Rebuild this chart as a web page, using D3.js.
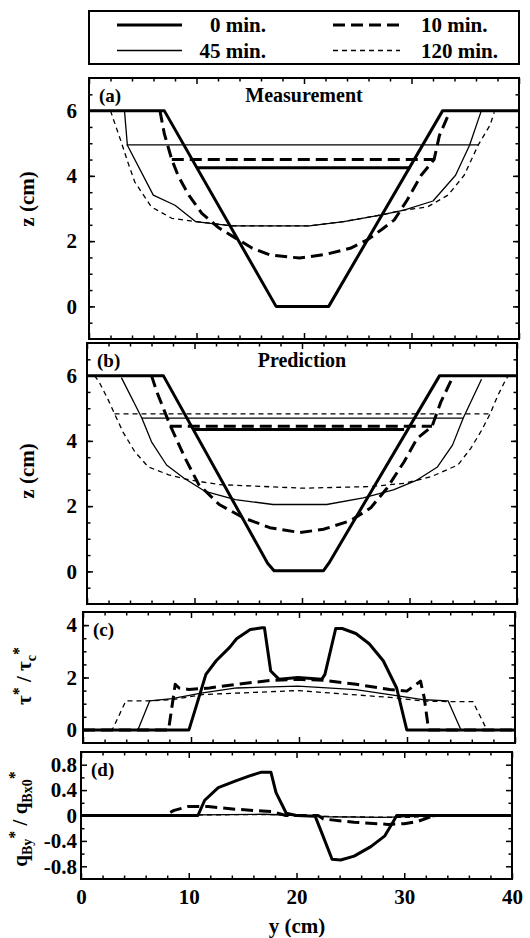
<!DOCTYPE html>
<html>
<head>
<meta charset="utf-8">
<script src="https://cdn.jsdelivr.net/npm/d3@7"></script>
<style>
body { margin: 0; background: #fff; }
svg text { font-family: "Liberation Serif", "Times New Roman", serif; font-weight: bold; fill: #000; }
</style>
</head>
<body>
<svg id="chart" width="530" height="938"></svg>
<script>
// series labels (minutes after start)
const minutes = [0, 10, 45, 120];
const legendLabels = ["0 min.", "10 min.", "45 min.", "120 min."];

// (a) measured bed profiles, [y (cm), z (cm)]
const meas0 = [[0,6],[7,6],[17.4,0],[22.3,0],[32.9,6],[40,6]];
const meas10 = [[6.6,6],[7.0,5.3],[7.7,4.5],[8.3,4.0],[9.3,3.4],[10.5,2.85],[12.1,2.4],[13.6,2.1],[15.2,1.78],
  [16.8,1.58],[19.6,1.48],[22.1,1.6],[24.3,1.78],[25.9,2.04],[27.2,2.35],[28.4,2.65],[29.6,3.26],[30.9,4.02],
  [32.1,4.5],[32.6,5.24],[33.4,5.85],[33.5,6]];
const meas45 = [[3.3,6],[3.57,4.94],[5.98,3.41],[8.0,3.1],[9.9,2.6],[13.3,2.47],[20.5,2.47],[23.7,2.6],
  [27.1,2.8],[29.3,2.95],[32.0,3.23],[34.1,4.02],[35.4,4.94],[36.5,6]];
const meas120 = [[2.0,6],[2.2,5.8],[3.0,5.04],[3.6,4.43],[4.25,3.82],[5.8,3.05],[7.7,2.7],[9.9,2.6],[13.3,2.47],
  [20.5,2.47],[23.7,2.6],[27.1,2.8],[29.3,2.95],[31.5,3.05],[33.4,3.41],[34.9,4.02],[36.2,4.94],[37.3,5.55],[37.7,5.95]];
// water surface: minute, level z, from y, to y
const measWater = [[0,4.25,10.0,29.9],[10,4.5,7.7,32.1],[45,4.95,3.5,36.2]];

// (b) predicted bed profiles
const pred0 = [[0,6],[7.1,6],[16.8,0.25],[17.4,0.02],[22.0,0.02],[22.5,0.25],[32.8,6],[40,6]];
const pred10 = [[6.0,6],[6.5,5.5],[7.73,4.48],[9.14,3.46],[10.4,2.66],[12.3,2.05],[14.5,1.65],[17.0,1.34],
  [19.8,1.19],[22.0,1.29],[24.5,1.55],[26.4,1.95],[27.9,2.55],[29.5,3.36],[30.7,4.07],[32.1,4.45],[32.9,5.18],[34.0,5.94]];
const pred45 = [[3.2,5.94],[5.1,4.7],[6.0,3.97],[7.4,3.26],[9.0,2.86],[11.0,2.45],[13.8,2.2],[17.3,2.05],
  [22.3,2.05],[25.7,2.25],[28.5,2.5],[30.7,2.8],[32.6,3.2],[34.0,3.87],[35.0,4.7],[36.7,5.89]];
const pred120 = [[0.7,6],[1.15,5.79],[1.94,5.28],[2.56,4.83],[3.35,4.27],[4.44,3.67],[5.7,3.2],[7.6,2.96],
  [9.45,2.81],[12.3,2.66],[20.1,2.55],[26.4,2.6],[29.5,2.7],[32.0,2.9],[34.5,3.26],[35.7,3.77],[36.7,4.32],
  [37.5,4.83],[38.2,5.38],[38.9,5.84],[39.2,6]];
const predWater = [[0,4.35,9.9,29.5],[10,4.45,7.7,32.1],[45,4.7,5.1,35.0],[120,4.83,2.56,37.5]];

// (c) bed shear stress ratio
const tau0 = [[0,0],[9.81,0],[10.43,0.83],[11.38,2.12],[12.33,2.64],[13.6,3.16],[14.22,3.48],[15.49,3.83],
  [16.58,3.9],[16.8,3.9],[17.38,2.25],[18.16,1.93],[19.9,2.0],[22.1,1.93],[22.4,2.12],[23.4,3.87],[24.0,3.87],
  [25.26,3.68],[26.5,3.29],[27.8,2.64],[29.04,1.6],[29.98,0],[40,0]];
const tau10 = [[0,0],[7.92,0],[8.54,1.74],[8.9,1.6],[9.81,1.54],[11.7,1.6],[14.2,1.74],[17.4,1.89],[19.9,1.93],
  [22.4,1.89],[25.3,1.74],[28.4,1.54],[29.98,1.48],[31.25,1.86],[31.6,1.22],[32.0,0],[40,0]];
const tau45 = [[0,0],[5.08,0],[6.18,1.11],[8.23,1.19],[11.07,1.41],[14.22,1.6],[19.9,1.67],[25.26,1.54],
  [28.4,1.35],[31.6,1.15],[33.8,1.11],[35.0,0],[40,0]];
const tau120 = [[0,0],[2.71,0],[3.97,1.11],[6.03,1.11],[8.2,1.15],[11.07,1.35],[19.9,1.5],[28.4,1.24],
  [31.6,1.1],[33.8,1.08],[36.1,1.08],[37.4,0],[40,0]];

// (d) lateral bedload ratio
const qb0 = [[0,0],[10.85,0],[11.48,0.24],[12.74,0.44],[14.3,0.54],[15.58,0.62],[16.68,0.68],[17.63,0.68],
  [18.1,0.36],[19.05,0.035],[20,0],[21.73,-0.01],[22.5,-0.34],[23.3,-0.69],[24.1,-0.7],[25.35,-0.64],
  [26.9,-0.49],[28.2,-0.32],[29.0,-0.09],[29.3,0],[40,0]];
const qb10 = [[0,0],[7.7,0],[8.64,0.08],[9.9,0.14],[11.8,0.14],[14.3,0.1],[16.84,0.07],[17.8,0.06],[19,0],
  [22,0],[22.5,-0.055],[25.35,-0.106],[28.5,-0.14],[30.0,-0.13],[31.3,-0.09],[32.3,-0.03],[33,0],[40,0]];
const qb45 = [[0,0],[8,0],[11,0.01],[17,0.02],[20,0],[23,-0.02],[28,-0.03],[32,-0.01],[36,0],[40,0]];
const qb120 = [[0,0],[5,0],[10,0.01],[18,0.015],[20,0],[24,-0.02],[30,-0.03],[34,-0.01],[38,0],[40,0]];

const xMajor = [0, 10, 20, 30, 40];

// line style for each time step
const styles = {
  0: {w: 3, dash: null},
  10: {w: 3, dash: "12,6"},
  45: {w: 1.3, dash: null},
  120: {w: 1.3, dash: "5,4"}
};

const svg = d3.select("#chart");

const panels = [
  {tag: "(a)", title: "Measurement", left: 89, right: 519, top: 78, bottom: 339, yDomain: [-1, 7],
   yMajor: [0, 2, 4, 6], yMinor: d3.range(-0.5, 7, 0.5), series: [meas120, meas45, meas10, meas0],
   water: measWater, label: "z", labelY: 199},
  {tag: "(b)", title: "Prediction", left: 87, right: 517, top: 343, bottom: 604, yDomain: [-1, 7],
   yMajor: [0, 2, 4, 6], yMinor: d3.range(-0.5, 7, 0.5), series: [pred120, pred45, pred10, pred0],
   water: predWater, label: "z", labelY: 471},
  {tag: "(c)", left: 83, right: 515, top: 612, bottom: 743, yDomain: [-0.5, 4.5],
   yMajor: [0, 2, 4], yMinor: d3.range(0, 4.5, 0.5), series: [tau120, tau45, tau10, tau0],
   water: [], label: "tau", labelY: 676},
  {tag: "(d)", left: 81, right: 512, top: 752, bottom: 879, yDomain: [-1, 1],
   yMajor: [-0.8, -0.4, 0, 0.4, 0.8], yMinor: [-0.6, -0.2, 0.2, 0.6], series: [qb120, qb45, qb10, qb0],
   water: [], label: "q", labelY: 819, xLabels: true}
];

const seriesMinutes = [120, 45, 10, 0];

function styleTicks(g) {
  g.select(".domain").remove();
  g.selectAll("line").attr("stroke", "#000").attr("stroke-width", 1.5);
  g.selectAll("text").attr("font-size", 21).attr("font-family", null).style("fill", "#000");
  g.attr("font-family", null);
}

panels.forEach(function(p) {
  let x = d3.scaleLinear().domain([0, 40]).range([p.left, p.right]);
  let y = d3.scaleLinear().domain(p.yDomain).range([p.bottom, p.top]);

  let g = svg.append("g").attr("class", "panel");

  // ticks, all pointing inward
  let lblPad = p.left - 77;
  g.append("g").attr("transform", `translate(${p.left},0)`)
    .call(d3.axisLeft(y).tickValues(p.yMajor).tickSize(-6).tickPadding(lblPad).tickFormat(d => String(d)))
    .call(styleTicks);
  g.append("g").attr("transform", `translate(${p.left},0)`)
    .call(d3.axisLeft(y).tickValues(p.yMinor).tickSize(-3.5).tickFormat(""))
    .call(styleTicks);
  g.append("g").attr("transform", `translate(${p.right},0)`)
    .call(d3.axisRight(y).tickValues(p.yMajor).tickSize(-6).tickFormat(""))
    .call(styleTicks);
  g.append("g").attr("transform", `translate(${p.right},0)`)
    .call(d3.axisRight(y).tickValues(p.yMinor).tickSize(-3.5).tickFormat(""))
    .call(styleTicks);

  let xMinor = d3.range(2, 40, 2).filter(v => v % 10 !== 0);
  g.append("g").attr("transform", `translate(0,${p.top})`)
    .call(d3.axisTop(x).tickValues(xMajor).tickSize(-6).tickFormat(""))
    .call(styleTicks);
  g.append("g").attr("transform", `translate(0,${p.top})`)
    .call(d3.axisTop(x).tickValues(xMinor).tickSize(-3.5).tickFormat(""))
    .call(styleTicks);
  g.append("g").attr("transform", `translate(0,${p.bottom})`)
    .call(d3.axisBottom(x).tickValues(xMajor).tickSize(-6).tickPadding(10)
      .tickFormat(p.xLabels ? (d => String(d)) : ""))
    .call(styleTicks);
  g.append("g").attr("transform", `translate(0,${p.bottom})`)
    .call(d3.axisBottom(x).tickValues(xMinor).tickSize(-3.5).tickFormat(""))
    .call(styleTicks);

  // frame
  g.append("rect")
    .attr("x", p.left).attr("y", p.top)
    .attr("width", p.right - p.left).attr("height", p.bottom - p.top)
    .attr("fill", "none").attr("stroke", "#000").attr("stroke-width", 2);

  let line = d3.line().x(d => x(d[0])).y(d => y(d[1]));

  // water surface lines
  p.water.forEach(function(w) {
    let s = styles[w[0]];
    g.append("path")
      .attr("d", line([[w[2], w[1]], [w[3], w[1]]]))
      .attr("fill", "none").attr("stroke", "#000")
      .attr("stroke-width", s.w)
      .attr("stroke-dasharray", s.dash);
  });

  // profiles
  p.series.forEach(function(data, i) {
    let s = styles[seriesMinutes[i]];
    g.append("path")
      .attr("d", line(data))
      .attr("fill", "none").attr("stroke", "#000")
      .attr("stroke-width", s.w)
      .attr("stroke-linejoin", "round")
      .attr("stroke-dasharray", s.dash);
  });

  g.append("text").attr("x", p.left + 10).attr("y", p.top + 24)
    .attr("font-size", 19).text(p.tag);

  if (p.title) {
    g.append("text").attr("x", x(20)).attr("y", p.top + 24)
      .attr("text-anchor", "middle").attr("font-size", 20).text(p.title);
  }

  // rotated axis titles
  if (p.label === "z") {
    g.append("text").attr("transform", `translate(34,${p.labelY}) rotate(-90)`)
      .attr("text-anchor", "middle").attr("font-size", 21).text("z (cm)");
  } else if (p.label === "tau") {
    let t = g.append("text").attr("transform", `translate(31,${p.labelY}) rotate(-90)`)
      .attr("text-anchor", "middle").attr("font-size", 21);
    t.append("tspan").text("τ");
    t.append("tspan").attr("dy", -7).attr("font-size", 16).text("*");
    t.append("tspan").attr("dy", 7).text(" / τ");
    t.append("tspan").attr("dy", 5).attr("font-size", 14).text("c");
    t.append("tspan").attr("dy", -12).attr("font-size", 16).text("*");
  } else {
    let t = g.append("text").attr("transform", `translate(27,${p.labelY}) rotate(-90)`)
      .attr("text-anchor", "middle").attr("font-size", 21);
    t.append("tspan").text("q");
    t.append("tspan").attr("dy", 5).attr("font-size", 14).text("By");
    t.append("tspan").attr("dy", -12).attr("font-size", 16).text("*");
    t.append("tspan").attr("dy", 7).text(" / q");
    t.append("tspan").attr("dy", 5).attr("font-size", 14).text("Bx0");
    t.append("tspan").attr("dy", -12).attr("font-size", 16).text("*");
  }
});

// x axis title
svg.append("text").attr("x", 297).attr("y", 933)
  .attr("text-anchor", "middle").attr("font-size", 21).text("y (cm)");

// legend box
let legend = svg.append("g").attr("class", "legend");
legend.append("rect").attr("x", 89).attr("y", 11).attr("width", 430).attr("height", 53)
  .attr("fill", "none").attr("stroke", "#000").attr("stroke-width", 2);

// order in legend: 0 | 10 on first row, 45 | 120 on second
let legendPos = [
  {col: 0, row: 0}, {col: 1, row: 0}, {col: 0, row: 1}, {col: 1, row: 1}
];
minutes.forEach(function(m, i) {
  let s = styles[m],
  pos = legendPos[i],
  ly = pos.row === 0 ? 25 : 50.5,
  x0 = pos.col === 0 ? 117 : 333,
  x1 = pos.col === 0 ? 182 : 400;

  legend.append("line")
    .attr("x1", x0).attr("x2", x1).attr("y1", ly).attr("y2", ly)
    .attr("stroke", "#000").attr("stroke-width", s.w)
    .attr("stroke-dasharray", s.dash);

  legend.append("text")
    .attr("x", pos.col === 0 ? 266 : 421)
    .attr("y", ly + 7)
    .attr("text-anchor", pos.col === 0 ? "end" : "start")
    .attr("font-size", 21)
    .text(legendLabels[i]);
});
</script>
</body>
</html>
